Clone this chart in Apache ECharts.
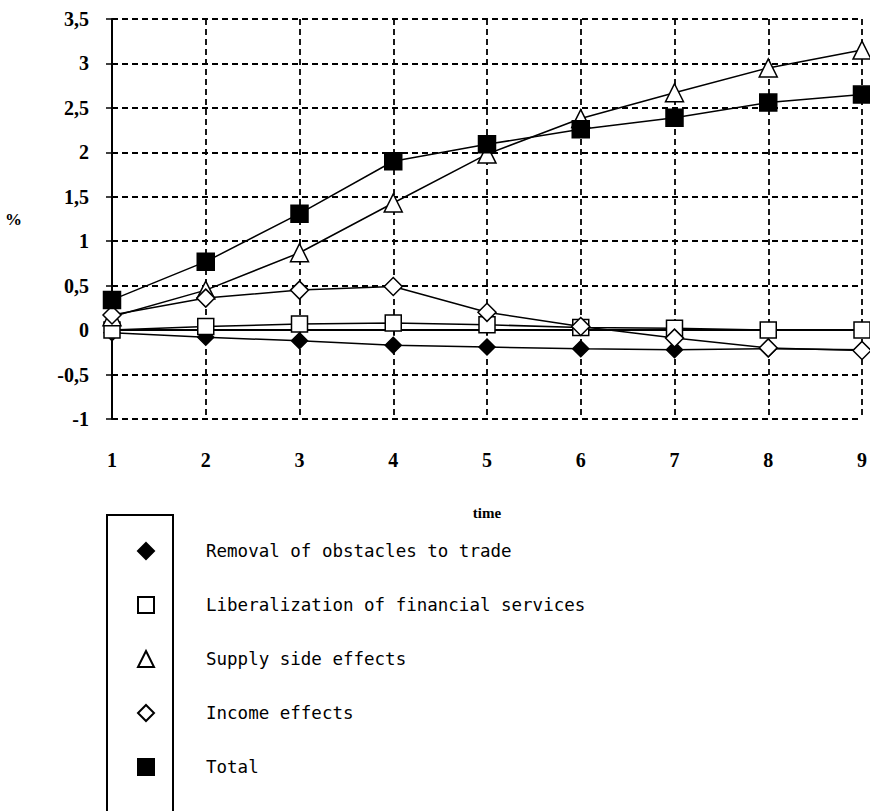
<!DOCTYPE html>
<html>
<head>
<meta charset="utf-8">
<script src="https://cdn.jsdelivr.net/npm/echarts@6/dist/echarts.min.js"></script>
<style>html,body{margin:0;padding:0;background:#fff}#c{width:870px;height:811px}</style>
</head>
<body>
<div id="c"></div>
<script>
const categories = ['1','2','3','4','5','6','7','8','9'];
const removal = [-0.03, -0.08, -0.12, -0.17, -0.19, -0.21, -0.22, -0.21, -0.22];
const liberalization = [0.0, 0.04, 0.07, 0.08, 0.06, 0.03, 0.02, 0.0, 0.0];
const supply = [0.15, 0.45, 0.87, 1.43, 1.98, 2.38, 2.67, 2.95, 3.15];
const income = [0.17, 0.36, 0.45, 0.49, 0.2, 0.04, -0.09, -0.2, -0.23];
const total = [0.34, 0.77, 1.31, 1.9, 2.09, 2.26, 2.39, 2.56, 2.65];
const seriesNames = ['Removal of obstacles to trade','Liberalization of financial services','Supply side effects','Income effects','Total'];

const chart = echarts.init(document.getElementById('c'), null, {renderer:'svg'});
const serif = 'Liberation Serif, Times New Roman, serif';
const mono = 'DejaVu Sans Mono, monospace';
function mk(name, data, symbol, size, filled, z){
  return {
    name, type:'line', data, symbol, symbolSize:size, z,
    lineStyle:{color:'#000', width:1.5},
    itemStyle:{color: filled ? '#000' : '#fff', borderColor:'#000', borderWidth:1.5},
    emphasis:{disabled:true}, animation:false
  };
}
chart.setOption({
  animation:false,
  grid:{left:112, right:2, top:19, bottom:392, containLabel:false},
  xAxis:{
    type:'category', data:categories, boundaryGap:false,
    name:'time', nameLocation:'middle', nameGap:86,
    nameTextStyle:{fontFamily:serif, fontWeight:'bold', fontSize:15, color:'#000'},
    axisLine:{lineStyle:{color:'#000', width:2}},
    axisTick:{alignWithLabel:true, length:6, lineStyle:{color:'#000', width:1.5}},
    axisLabel:{margin:31, fontFamily:serif, fontWeight:'bold', fontSize:20, color:'#000'},
    splitLine:{show:true, lineStyle:{color:'#000', type:[6,4], width:1.8}}
  },
  yAxis:{
    type:'value', min:-1, max:3.5, interval:0.5,
    name:'%', nameLocation:'middle', nameRotate:0, nameGap:90,
    nameTextStyle:{fontFamily:serif, fontWeight:'bold', fontSize:17, color:'#000'},
    axisLine:{show:true, lineStyle:{color:'#000', width:2}},
    axisTick:{show:true, length:6, lineStyle:{color:'#000', width:1.5}},
    axisLabel:{margin:23, fontFamily:serif, fontWeight:'bold', fontSize:20, color:'#000',
      formatter:v=>String(v).replace('.',',')},
    splitLine:{show:true, lineStyle:{color:'#000', type:[6,4], width:1.8}}
  },
  legend:{
    orient:'vertical', left:132, top:537, itemWidth:16, itemHeight:16, itemGap:36,
    selectedMode:false,
    textStyle:{fontFamily:mono, fontSize:17.5, color:'#000', padding:[0,0,0,47], lineHeight:16},
    data:[
      {name:seriesNames[0], icon:'diamond'},
      {name:seriesNames[1], icon:'rect'},
      {name:seriesNames[2], icon:'triangle'},
      {name:seriesNames[3], icon:'diamond'},
      {name:seriesNames[4], icon:'rect'}
    ]
  },
  graphic:[{type:'rect', shape:{x:107, y:515, width:66, height:330}, style:{fill:'none', stroke:'#000', lineWidth:2}, silent:true}],
  series:[
    mk(seriesNames[0], removal, 'diamond', 16, true, 3),
    mk(seriesNames[1], liberalization, 'rect', 16, false, 4),
    mk(seriesNames[2], supply, 'triangle', 18, false, 5),
    mk(seriesNames[3], income, 'diamond', 18, false, 6),
    mk(seriesNames[4], total, 'rect', 17, true, 7)
  ]
});
</script>
</body>
</html>
